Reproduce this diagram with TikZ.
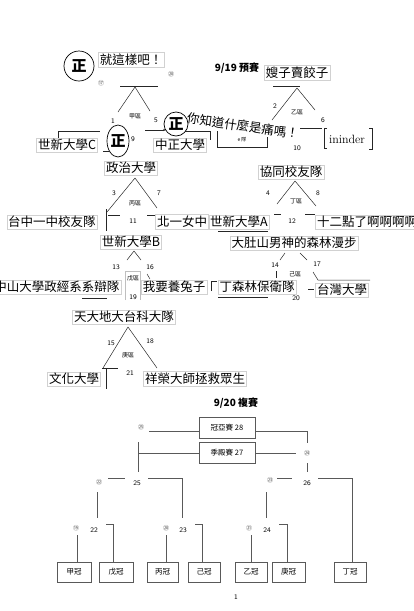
\documentclass[tikz,border=0pt]{standalone}
\usepackage{fontspec}
\newfontfamily\cjk{Noto Sans CJK TC}
\usetikzlibrary{shapes.geometric,arrows.meta}
\begin{document}
\begin{tikzpicture}[x=1pt,y=-1pt,
  team/.style={font=\cjk\fontsize{12.5}{13}\selectfont, inner sep=1.5pt, draw=black!18, line width=0.4pt, fill=white},
  num/.style={font=\sffamily\fontsize{7}{7}\selectfont, inner sep=0.5pt},
  zone/.style={font=\cjk\fontsize{6}{6}\selectfont, inner sep=0.5pt},
  circ/.style={font=\cjk\fontsize{6}{6}\selectfont, text=black!70, inner sep=0},
  zheng/.style={draw, line width=0.7pt, fill=white, font=\cjk\bfseries\fontsize{15}{15}\selectfont, inner sep=0},
  ln/.style={line width=0.5pt, black!85},
  ln2/.style={line width=0.6pt, black!65},
  faint/.style={line width=0.4pt, black!25},
  box/.style={draw=black!65, line width=0.6pt, font=\cjk\fontsize{7.5}{8}\selectfont, inner sep=0, fill=white},
  titlestyle/.style={font=\cjk\bfseries\fontsize{10}{10}\selectfont, inner sep=0}
]
\useasboundingbox (0,0) rectangle (413,611);

% ---------------- 9/19 ----------------
\node[titlestyle] (t919) at (237,68) {9/19 預賽};

% tree lines (drawn first, text boxes cover them)
\coordinate (aTop) at (135,87); \coordinate (aL) at (118,112); \coordinate (aR) at (150,111);
\coordinate (ua1) at (120,86); \coordinate (ua2) at (158,86);
\draw[ln] (ua1) -- (ua2);
\draw[ln] (aTop) -- (aL); \draw[ln] (aTop) -- (aR);
\coordinate (ba1) at (58,138); \coordinate (ba2) at (58,131); \coordinate (ba3) at (100,131);
\draw[ln] (ba1) -- (ba2) -- (ba3);
\coordinate (bb1) at (145,130); \coordinate (bb2) at (166,130);
\draw[ln,-{Stealth[length=3pt]}] (bb1) -- (bb2);
\coordinate (bc1) at (185,131); \coordinate (bc2) at (210,131); \coordinate (bc3) at (210,140);
\draw[ln] (bc1) -- (bc2) -- (bc3);
\coordinate (bd1) at (103,151); \coordinate (bd2) at (109,151);
\draw[ln] (bd1) -- (bd2);

\coordinate (bTop) at (297,88); \coordinate (bL) at (272,120); \coordinate (bR) at (315,110);
\coordinate (ub1) at (273,86); \coordinate (ub2) at (300,86);
\draw[ln] (ub1) -- (ub2);
\draw[ln] (bTop) -- (bL); \draw[ln] (bTop) -- (bR);
\coordinate (e1) at (217,131); \coordinate (e2) at (217,147); \coordinate (e3) at (267,147); \coordinate (e4) at (267,137);
\draw[ln] (e1) -- (e2) -- (e3) -- (e4);
\coordinate (ib1) at (300,128); \coordinate (ib2) at (322,128);
\draw[ln] (ib1) -- (ib2);
\coordinate (il1) at (327,128); \coordinate (il2) at (324,128); \coordinate (il3) at (324,148); \coordinate (il4) at (327,148);
\draw[ln] (il1) -- (il2) -- (il3) -- (il4);
\coordinate (ir1) at (369,128); \coordinate (ir2) at (372,128); \coordinate (ir3) at (372,149); \coordinate (ir4) at (369,149);
\draw[ln] (ir1) -- (ir2) -- (ir3) -- (ir4);

\coordinate (cTop) at (135,178); \coordinate (cL) at (107,212); \coordinate (cR) at (157,208);
\draw[ln] (cTop) -- (cL); \draw[ln] (cTop) -- (cR);
\coordinate (cv1) at (106,209); \coordinate (cv2) at (106,231);
\draw[ln] (cv1) -- (cv2);
\coordinate (ch1) at (108,215); \coordinate (ch2) at (120,215);
\coordinate (ch3) at (147,215); \coordinate (ch4) at (156,215);
\draw[ln] (ch1) -- (ch2); \draw[ln] (ch3) -- (ch4);

\coordinate (dTop) at (295,181); \coordinate (dL) at (277,204); \coordinate (dR) at (316,206);
\draw[ln] (dTop) -- (dL); \draw[ln] (dTop) -- (dR);
\coordinate (dh1) at (274,214); \coordinate (dh2) at (281,214);
\coordinate (dh3) at (305,214); \coordinate (dh4) at (315,214);
\draw[ln] (dh1) -- (dh2); \draw[ln] (dh3) -- (dh4);

\coordinate (eTop) at (134,251); \coordinate (eL) at (127,260); \coordinate (eR) at (141,260);
\draw[ln] (eTop) -- (eL); \draw[ln] (eTop) -- (eR);
\coordinate (eR2) at (147,274); \coordinate (eR3) at (150,279);
\draw[ln] (eR2) -- (eR3);
\coordinate (eb1) at (125,300); \coordinate (eb2) at (125,271); \coordinate (eb3) at (140,271); \coordinate (eb4) at (140,300);
\draw[faint] (eb1) -- (eb2) -- (eb3) -- (eb4);

\coordinate (fL1) at (285,253); \coordinate (fL2) at (280,260);
\coordinate (fR1) at (300,253); \coordinate (fR2) at (307,260);
\draw[ln] (fL1) -- (fL2); \draw[ln] (fR1) -- (fR2);
\coordinate (fL3) at (276,271); \coordinate (fL4) at (276,278);
\draw[ln] (fL3) -- (fL4);
\coordinate (fR3) at (313,272); \coordinate (fR4) at (318,280); \coordinate (fR5) at (370,280);
\draw[ln] (fR3) -- (fR4) -- (fR5);
\coordinate (fk1) at (211,291); \coordinate (fk2) at (211,281); \coordinate (fk3) at (217,281);
\draw[ln] (fk1) -- (fk2) -- (fk3);
\coordinate (fd1) at (308,289); \coordinate (fd2) at (314,289);
\draw[ln] (fd1) -- (fd2);

\coordinate (gTop) at (128,327); \coordinate (gL) at (103,368); \coordinate (gR) at (157,368);
\draw[ln] (gTop) -- (gL); \draw[ln] (gTop) -- (gR);
\coordinate (gh1) at (102,368); \coordinate (gh2) at (118,368);
\draw[ln] (gh1) -- (gh2);
\coordinate (gv1) at (106,368); \coordinate (gv2) at (106,389);
\draw[ln] (gv1) -- (gv2);

% team names
\node[team] (jiu) at (131,60) {就這樣吧！};
\node[team] (sao) at (297,73) {嫂子賣餃子};
\node[team] (sxC) at (67,145) {世新大學C};
\node[team] (zzu) at (180,145) {中正大學};
\node[font=\fontsize{12}{12}\selectfont, inner sep=1pt] (inin) at (347,139) {ininder};
\node[team] (zzd) at (131,168) {政治大學};
\node[team] (xt) at (291,172) {協同校友隊};
\node[team] (tz) at (52,222) {台中一中校友隊};
\node[team] (bn) at (182,222) {北一女中};
\node[team] (sxA) at (239,222) {世新大學A};
\node[team] (twelve) at (367,222) {十二點了啊啊啊啊};
\node[team] (sxB) at (131,242) {世新大學B};
\node[team] (dadu) at (294,243) {大肚山男神的森林漫步};
\node[team] (zs) at (57,287) {中山大學政經系系辯隊};
\node[team] (tu) at (174,287) {我要養兔子};
\node[team] (dsl) at (257,287) {丁森林保衛隊};
\node[team] (tw) at (342,290) {台灣大學};
\node[team] (tian) at (124,317) {天大地大台科大隊};
\node[team] (wh) at (74,379) {文化大學};
\node[team] (xr) at (195,379) {祥榮大師拯救眾生};

% underlines
\coordinate (uA1) at (218,231); \coordinate (uA2) at (268,231);
\draw[ln] (uA1) -- (uA2);
\coordinate (uZ1) at (82,298); \coordinate (uZ2) at (107,298);
\draw[ln] (uZ1) -- (uZ2);
\coordinate (uD1) at (218,297); \coordinate (uD2) at (268,297);
\draw[ln] (uD1) -- (uD2);

% rotated text and small labels
\node[font=\cjk\fontsize{12.5}{13}\selectfont, rotate=-8, inner sep=0] (tong) at (243,126) {你知道什麼是痛嗎！};
\node[font=\cjk\fontsize{5}{5}\selectfont, inner sep=0] (eteam) at (242,140) {e 隊};

\node[circ] (m17) at (101,83) {⑰};
\node[circ] (m20) at (171,74) {⑳};
\node[num] (n1) at (113,121) {1};
\node[zone] (zA) at (135,116) {甲區};
\node[num] (n5) at (156,120) {5};
\node[num] (n9) at (133,139) {9};
\node[num] (n2) at (275,106) {2};
\node[zone] (zB) at (297,112) {乙區};
\node[num] (n6) at (323,120) {6};
\node[num] (n10) at (297,148) {10};
\node[num] (n3) at (114,193) {3};
\node[zone] (zC) at (135,203) {丙區};
\node[num] (n7) at (159,193) {7};
\node[num] (n11) at (133,221) {11};
\node[num] (n4) at (268,193) {4};
\node[zone] (zD) at (296,201) {丁區};
\node[num] (n8) at (318,193) {8};
\node[num] (n12) at (292,221) {12};
\node[num] (n13) at (116,267) {13};
\node[num] (n16) at (150,267) {16};
\node[zone] (zE) at (133,278) {戊區};
\node[num] (n19) at (133,297) {19};
\node[num] (n14) at (275,265) {14};
\node[num] (n17) at (317,264) {17};
\node[zone] (zF) at (295,274) {己區};
\node[num] (n20) at (296,298) {20};
\node[num] (n15) at (111,343) {15};
\node[num] (n18) at (150,341) {18};
\node[zone] (zG) at (128,355) {庚區};
\node[num] (n21) at (130,373) {21};

% circled marks
\node[zheng, circle, minimum size=30] (zh1) at (79,66) {正};
\node[zheng, ellipse, minimum width=22, minimum height=32] (zh2) at (118,141) {正};
\node[zheng, circle, minimum size=24] (zh3) at (176,124) {正};

% ---------------- 9/20 ----------------
\node[titlestyle] (t920) at (236,403) {9/20 複賽};
\node[box, minimum width=56, minimum height=21] (f28) at (227,427.5) {冠亞賽 28};
\node[box, minimum width=56, minimum height=21] (f27) at (227,452.5) {季殿賽 27};

\node[circ] (m28) at (141,427) {㉕};
\node[circ] (m27) at (307,453) {㉔};
\node[circ] (m25) at (99,482) {㉒};
\node[circ] (m26) at (270,480) {㉓};
\node[circ] (m22) at (76,528) {⑲};
\node[circ] (m23) at (166,528) {⑳};
\node[circ] (m24) at (249,528) {㉑};

\node[num] (n25) at (137,483) {25};
\node[num] (n26) at (307,483) {26};
\node[num] (n22) at (94,530) {22};
\node[num] (n23) at (183,530) {23};
\node[num] (n24) at (267,530) {24};

\node[box, minimum width=34, minimum height=20] (jg) at (74,572) {甲冠};
\node[box, minimum width=34, minimum height=20] (wg) at (116,572) {戊冠};
\node[box, minimum width=31, minimum height=20] (bg) at (162.5,572) {丙冠};
\node[box, minimum width=32, minimum height=20] (jig) at (204,572) {己冠};
\node[box, minimum width=32, minimum height=20] (yg) at (251,572) {乙冠};
\node[box, minimum width=33, minimum height=20] (gg) at (288.5,572) {庚冠};
\node[box, minimum width=32, minimum height=20] (dg) at (350,572) {丁冠};

% final bracket lines
\coordinate (k1) at (149,431);
\draw[ln2] (k1) -- (f28.west |- 0,431);
\draw[ln2] (f28.east |- 0,431) -- (307,431) -- (307,443);
\draw[ln2] (138,442) -- (138,472);
\draw[ln2] (138,453) -- (f27.west |- 0,453);
\draw[ln2] (f27.east |- 0,453) -- (296,453);
\draw[ln2] (307,463) -- (307,472);
\draw[ln2] (108,478) -- (125,478);
\draw[ln2] (148,478) -- (182,478) -- (182,518);
\draw[ln2] (97,492) -- (97,518);
\draw[ln2] (277,478) -- (292,478);
\draw[ln2] (318,478) -- (352,478) -- (dg.north -| 352,0);
\draw[ln2] (266,492) -- (266,518);
\draw[ln2] (77,535) -- (jg.north -| 77,0);
\draw[ln2] (106,524) -- (113,524) -- (wg.north -| 113,0);
\draw[ln2] (166,535) -- (bg.north -| 166,0);
\draw[ln2] (195,524) -- (202,524) -- (jig.north -| 202,0);
\draw[ln2] (251,535) -- (yg.north);
\draw[ln2] (279,524) -- (287,524) -- (gg.north -| 287,0);

\node[num] (pg) at (236,597) {1};
\end{tikzpicture}
\end{document}
